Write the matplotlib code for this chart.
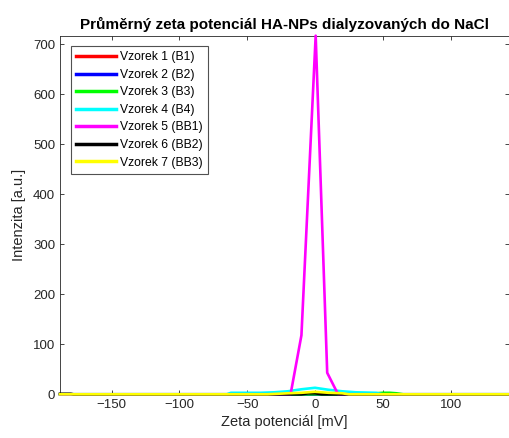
import matplotlib
matplotlib.use("Agg")
import matplotlib.pyplot as plt

plt.rcParams['font.family'] = ['Liberation Sans', 'DejaVu Sans']

# zeta potential [mV] and intensity [a.u.] for each sample
x1 = [-188, -100, 0, 100, 143]
y1 = [0, 0, 0, 0, 0]
x2 = [-188, -100, 0, 100, 143]
y2 = [0, 0, 0, 0, 0]
x3 = [-188, 40, 45, 50, 55, 60, 65, 143]
y3 = [0, 0, 2, 3, 3, 2, 0, 0]
x4 = [-188, -65, -62, -40, -30, -20, -10, 0, 10, 20, 30, 45, 50, 143]
y4 = [0, 0, 3, 3, 4, 6, 10, 13, 9, 6, 4, 3, 0, 0]
x5 = [-188, -18, -10, 0.5, 9, 17, 143]
y5 = [0, 0, 118, 717, 43, 0, 0]
x6 = [-188, -180, -178, -10, -5, 0, 5, 143]
y6 = [1, 1, 0, 0, 2, 2, 0, 0]
x7 = [-188, -35, -20, -10, 0, 10, 20, 25, 143]
y7 = [0, 0, 2, 3, 5, 3, 2, 0, 0]

labels = ['Vzorek 1 (B1)', 'Vzorek 2 (B2)', 'Vzorek 3 (B3)', 'Vzorek 4 (B4)',
          'Vzorek 5 (BB1)', 'Vzorek 6 (BB2)', 'Vzorek 7 (BB3)']
colors = ['#ff0000', '#0000ff', '#00ff00', '#00ffff', '#ff00ff', '#000000', '#ffff00']
xs = [x1, x2, x3, x4, x5, x6, x7]
ys = [y1, y2, y3, y4, y5, y6, y7]

fig = plt.figure(figsize=(5.10, 4.38), dpi=100)
ax = fig.add_axes([0.1176, 0.0998, 0.8804, 0.8187])

for x, y, c, l in zip(xs, ys, colors, labels):
    ax.plot(x, y, color=c, linewidth=1.9, label=l, clip_on=False, zorder=3)

ax.set_xlim(-188, 143)
ax.set_ylim(0, 717)
ax.set_xticks([-150, -100, -50, 0, 50, 100])
ax.set_yticks([0, 100, 200, 300, 400, 500, 600, 700])

gray = '#262626'
ax.tick_params(direction='in', length=3, width=0.6, colors=gray, labelsize=9.5,
               top=True, right=True)
for s in ax.spines.values():
    s.set_color('#262626')
    s.set_linewidth(0.6)
    s.set_zorder(2)

ax.set_title('Průměrný zeta potenciál HA-NPs dialyzovaných do NaCl',
             fontsize=11, fontweight='bold', pad=5)
ax.set_xlabel('Zeta potenciál [mV]', fontsize=10.5, color=gray, labelpad=3)
ax.set_ylabel('Intenzita [a.u.]', fontsize=10.5, color=gray, labelpad=5)

leg = ax.legend(loc='upper left', bbox_to_anchor=(0.024, 0.972), fontsize=8.7,
                frameon=True, fancybox=False, handlelength=3.3, handletextpad=0.3,
                labelspacing=0.46, borderpad=0.45, borderaxespad=0)
leg.set_zorder(5)
leg.get_frame().set_edgecolor(gray)
leg.get_frame().set_linewidth(0.8)
for h in leg.get_lines():
    h.set_linewidth(2.5)

fig.savefig('out.png', dpi=100)
